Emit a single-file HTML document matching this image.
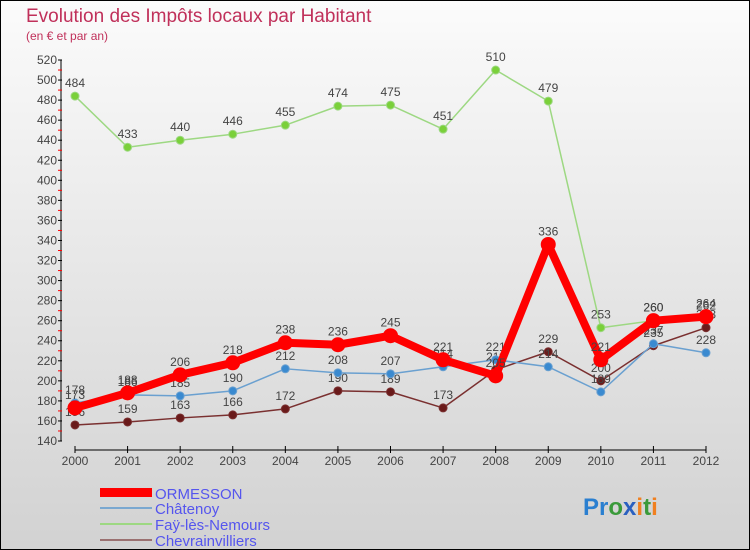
<!DOCTYPE html>
<html><head><meta charset="utf-8"><style>
body{margin:0}
#wrap{position:relative;width:750px;height:550px;background:linear-gradient(#fbfbfb,#d2d2d2);border:1px solid #000;box-sizing:border-box;font-family:"Liberation Sans",sans-serif;overflow:hidden}
</style></head><body>
<div id="wrap">
<svg id="c" width="750" height="550" style="position:absolute;left:-1px;top:-1px">
<text x="26" y="22" font-size="19" fill="#c0305a">Evolution des Impôts locaux par Habitant</text>
<text x="26" y="40" font-size="12" fill="#c0305a">(en € et par an)</text>
<g id="axes"></g><g id="series"></g>
<g>
<rect x="100" y="488" width="52" height="9" fill="#f00"/>
<text x="155" y="499" font-size="15" fill="#5555ee">ORMESSON</text>
<rect x="100" y="507" width="52" height="2" fill="#7aa8d0"/>
<text x="155" y="514" font-size="15" fill="#5555ee">Châtenoy</text>
<rect x="100" y="523" width="52" height="2" fill="#9dd882"/>
<text x="155" y="530" font-size="15" fill="#5555ee">Faÿ-lès-Nemours</text>
<rect x="100" y="539" width="52" height="2" fill="#9a7070"/>
<text x="155" y="546" font-size="15" fill="#5555ee">Chevrainvilliers</text>
</g>
<text x="583" y="515" font-size="24" font-weight="bold"><tspan fill="#2a7fd0">Pr</tspan><tspan fill="#3a9a3a">o</tspan><tspan fill="#2a60c0">x</tspan><tspan fill="#f08020">i</tspan><tspan fill="#3a9a3a">t</tspan><tspan fill="#f08020">i</tspan></text>
</svg>
</div>
<script>
const years=[2000,2001,2002,2003,2004,2005,2006,2007,2008,2009,2010,2011,2012];
const yTicks=[140,160,180,200,220,240,260,280,300,320,340,360,380,400,420,440,460,480,500,520];
const ormesson=[173,188,206,218,238,236,245,221,205,336,221,260,264];
const chatenoy=[178,186,185,190,212,208,207,214,221,214,189,237,228];
const fay=[484,433,440,446,455,474,475,451,510,479,253,260,262];
const chevr=[156,159,163,166,172,190,189,173,211,229,200,235,253];
const NS="http://www.w3.org/2000/svg";
const X=i=>75+i*(706-75)/12;
const Y=v=>441-(v-140)*(381/380);
function mk(tag,attrs,parent,txt){const e=document.createElementNS(NS,tag);for(const k in attrs)e.setAttribute(k,attrs[k]);if(txt!==undefined)e.textContent=txt;parent.appendChild(e);return e;}
const ax=document.getElementById('axes');
let e=mk('line',{x1:61,y1:60,x2:61,y2:441,stroke:'#000'},ax);


yTicks.forEach(v=>{
 mk('line',{x1:58,y1:Y(v),x2:62,y2:Y(v),stroke:'#000'},ax);
 if(v<520)mk('line',{x1:58,y1:Y(v+10),x2:62,y2:Y(v+10),stroke:'#f00'},ax);
 const t=mk('text',{x:57,y:Y(v)+4,'font-size':12,fill:'#444','text-anchor':'end'},ax,v);
 
 
});
e=mk('line',{x1:75,y1:450,x2:706,y2:450,stroke:'#000'},ax);


years.forEach((y,i)=>{
 mk('line',{x1:X(i),y1:446,x2:X(i),y2:453,stroke:'#000'},ax);
 const t=mk('text',{x:X(i),y:465,'font-size':12,fill:'#444','text-anchor':'middle'},ax,y);
 
 
});
const sg=document.getElementById('series');
function series(data,name,color,w,r,fill,labels){
 const g=mk('g',{},sg);
 
 
 const pl=mk('polyline',{points:data.map((v,i)=>X(i)+','+Y(v)).join(' '),fill:'none',stroke:color,'stroke-width':w,'stroke-linejoin':'round'},g);
 
 
 data.forEach((v,i)=>{
  const c=mk('circle',{cx:X(i),cy:Y(v),r:r,fill:fill,stroke:color,'stroke-width':1},g);
  
  
  if(labels){const t=mk('text',{x:X(i),y:Y(v)-9,'font-size':12,fill:'#444','text-anchor':'middle'},g,v);
  
  }
 });
}
series(chevr,'chevrainvilliers','#7a3030',1.5,4,'#6a1a1a',true);
series(chatenoy,'chatenoy','#6aa0d0',1.5,4,'#3a8ad0',true);
series(fay,'fay-les-nemours','#9dd882',1.5,4,'#7ad03a',true);
series(ormesson,'ormesson','#f00',8,7,'#f00',true);
</script>
</body></html>
